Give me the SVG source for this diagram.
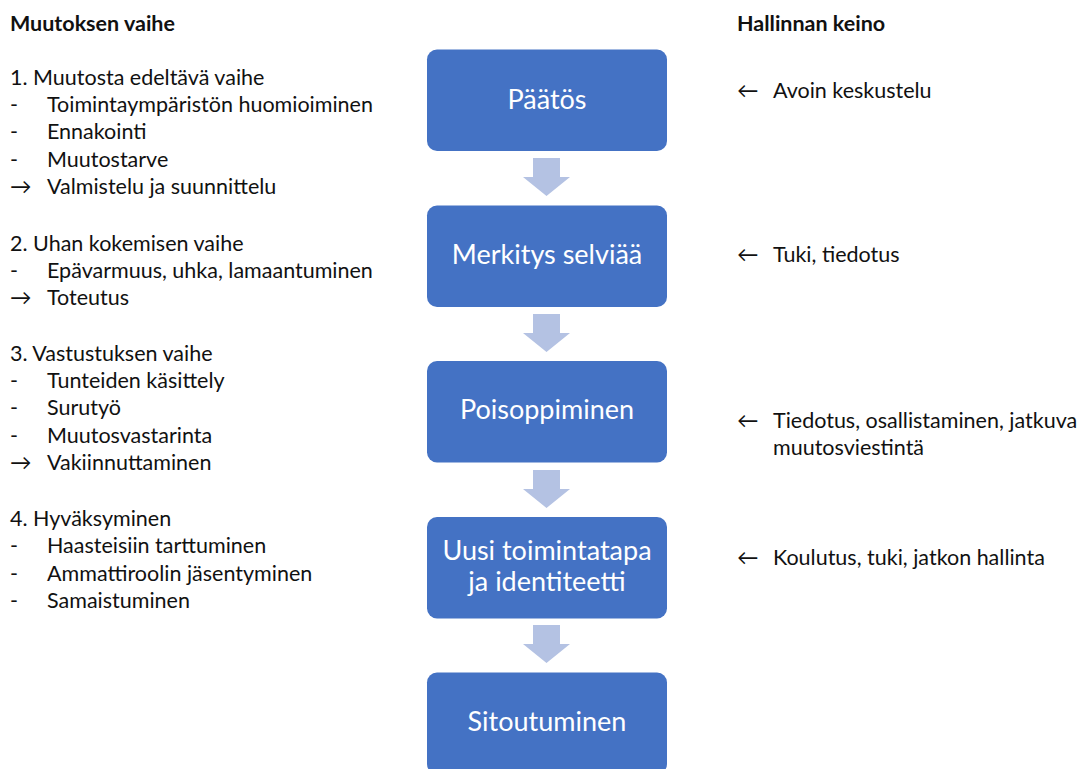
<svg xmlns="http://www.w3.org/2000/svg" width="1078" height="769" viewBox="0 0 1078 769">
<style>
.t{font-family:Lato,"Liberation Sans",sans-serif;font-size:21.5px;fill:#111}
.h{font-family:Lato,"Liberation Sans",sans-serif;font-size:21.5px;font-weight:bold;fill:#111}
.b{fill:#4472C4}
.bt{font-family:Lato,"Liberation Sans",sans-serif;font-size:27px;fill:#fff;text-anchor:middle}
.a{fill:#B4C2E3}
</style>
<rect width="1078" height="769" fill="#fff"/>
<g id="left-column">
<text class="h" x="10" y="31">Muutoksen vaihe</text>
<text class="t" x="10" y="85">1. Muutosta edeltävä vaihe</text>
<text class="t" x="10" y="112">-</text><text class="t" x="47" y="112">Toimintaympäristön huomioiminen</text>
<text class="t" x="10" y="139">-</text><text class="t" x="47" y="139">Ennakointi</text>
<text class="t" x="10" y="167">-</text><text class="t" x="47" y="167">Muutostarve</text>
<text class="t" x="10" y="194">→</text><text class="t" x="47" y="194">Valmistelu ja suunnittelu</text>
<text class="t" x="10" y="251">2. Uhan kokemisen vaihe</text>
<text class="t" x="10" y="278">-</text><text class="t" x="47" y="278">Epävarmuus, uhka, lamaantuminen</text>
<text class="t" x="10" y="305">→</text><text class="t" x="47" y="305">Toteutus</text>
<text class="t" x="10" y="361">3. Vastustuksen vaihe</text>
<text class="t" x="10" y="388">-</text><text class="t" x="47" y="388">Tunteiden käsittely</text>
<text class="t" x="10" y="415">-</text><text class="t" x="47" y="415">Surutyö</text>
<text class="t" x="10" y="443">-</text><text class="t" x="47" y="443">Muutosvastarinta</text>
<text class="t" x="10" y="470">→</text><text class="t" x="47" y="470">Vakiinnuttaminen</text>
<text class="t" x="10" y="526">4. Hyväksyminen</text>
<text class="t" x="10" y="553">-</text><text class="t" x="47" y="553">Haasteisiin tarttuminen</text>
<text class="t" x="10" y="581">-</text><text class="t" x="47" y="581">Ammattiroolin jäsentyminen</text>
<text class="t" x="10" y="608">-</text><text class="t" x="47" y="608">Samaistuminen</text>
</g>
<g id="right-column">
<text class="h" x="737" y="31">Hallinnan keino</text>
<text class="t" x="737" y="98">←</text><text class="t" x="773" y="98">Avoin keskustelu</text>
<text class="t" x="737" y="262">←</text><text class="t" x="773" y="262">Tuki, tiedotus</text>
<text class="t" x="737" y="428">←</text><text class="t" x="773" y="428">Tiedotus, osallistaminen, jatkuva</text>
<text class="t" x="773" y="455">muutosviestintä</text>
<text class="t" x="737" y="565">←</text><text class="t" x="773" y="565">Koulutus, tuki, jatkon hallinta</text>
</g>
<g id="node-paatos"><rect class="b" x="427" y="49.5" width="240" height="101.5" rx="10"/><text class="bt" x="547" y="109">Päätös</text></g>
<g id="node-merkitys"><rect class="b" x="427" y="205.5" width="240" height="101.5" rx="10"/><text class="bt" x="547" y="264">Merkitys selviää</text></g>
<g id="node-poisoppiminen"><rect class="b" x="427" y="361" width="240" height="101.5" rx="10"/><text class="bt" x="547" y="419">Poisoppiminen</text></g>
<g id="node-uusi"><rect class="b" x="427" y="517" width="240" height="101.5" rx="10"/><text class="bt" x="547" y="560">Uusi toimintatapa</text><text class="bt" x="547" y="591">ja identiteetti</text></g>
<g id="node-sitoutuminen"><rect class="b" x="427" y="672.5" width="240" height="101.5" rx="10"/><text class="bt" x="547" y="731">Sitoutuminen</text></g>
<g id="connectors">
<path class="a" d="M533 158H560V177H570L546.5 196L523 177H533Z"/>
<path class="a" d="M533 314H560V333H570L546.5 352L523 333H533Z"/>
<path class="a" d="M533 470H560V489H570L546.5 508L523 489H533Z"/>
<path class="a" d="M533 625H560V644H570L546.5 663L523 644H533Z"/>
</g>
</svg>
